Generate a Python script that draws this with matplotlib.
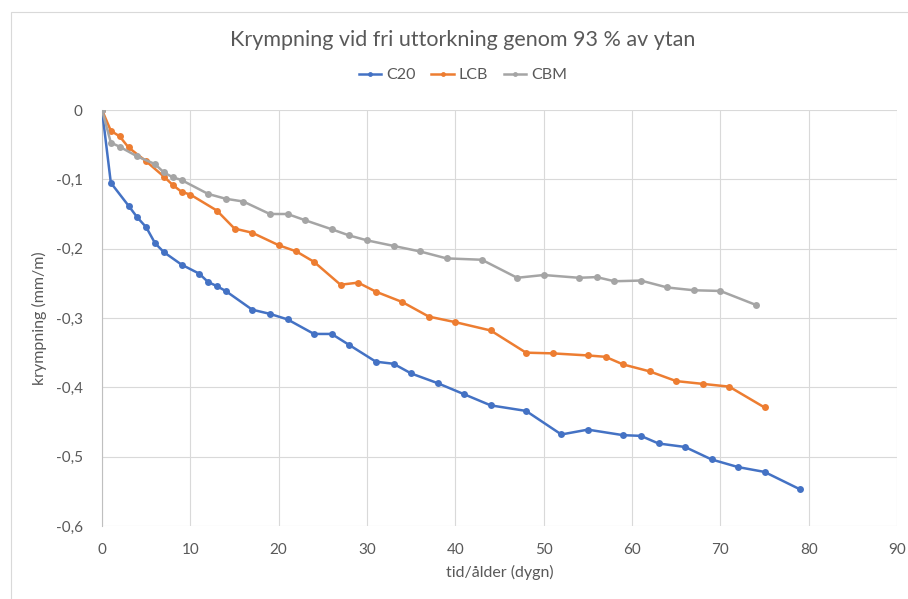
import matplotlib
matplotlib.use("Agg")
import matplotlib.pyplot as plt
from matplotlib.patches import Rectangle
from matplotlib.ticker import FuncFormatter

plt.rcParams['font.family'] = ['Lato', 'DejaVu Sans']

# C20
c20_x = [0, 1, 3, 4, 5, 6, 7, 9, 11, 12, 13, 14, 17, 19, 21, 24, 26, 28, 31, 33, 35,
         38, 41, 44, 48, 52, 55, 59, 61, 63, 66, 69, 72, 75, 79]
c20_y = [0, -0.105, -0.138, -0.155, -0.169, -0.192, -0.205, -0.223, -0.236, -0.248,
         -0.254, -0.261, -0.288, -0.294, -0.302, -0.323, -0.323, -0.339, -0.363, -0.366,
         -0.380, -0.394, -0.410, -0.426, -0.434, -0.468, -0.461, -0.469, -0.470, -0.481,
         -0.486, -0.504, -0.515, -0.522, -0.547]

# LCB
lcb_x = [0, 1, 2, 3, 5, 7, 8, 9, 10, 13, 15, 17, 20, 22, 24, 27, 29, 31, 34, 37, 40,
         44, 48, 51, 55, 57, 59, 62, 65, 68, 71, 75]
lcb_y = [0, -0.030, -0.038, -0.054, -0.074, -0.096, -0.108, -0.118, -0.122, -0.145,
         -0.171, -0.177, -0.195, -0.204, -0.219, -0.252, -0.249, -0.262, -0.277, -0.298,
         -0.306, -0.318, -0.350, -0.351, -0.354, -0.356, -0.367, -0.377, -0.391, -0.395,
         -0.399, -0.429]

# CBM
cbm_x = [0, 1, 2, 4, 6, 7, 8, 9, 12, 14, 16, 19, 21, 23, 26, 28, 30, 33, 36, 39, 43,
         47, 50, 54, 56, 58, 61, 64, 67, 70, 74]
cbm_y = [0, -0.047, -0.053, -0.067, -0.078, -0.090, -0.097, -0.101, -0.121, -0.128,
         -0.132, -0.150, -0.150, -0.159, -0.172, -0.181, -0.188, -0.196, -0.204, -0.214,
         -0.216, -0.242, -0.238, -0.242, -0.241, -0.247, -0.246, -0.256, -0.260, -0.261,
         -0.281]

x_ticks = [0, 10, 20, 30, 40, 50, 60, 70, 80, 90]
y_ticks = [0, -0.1, -0.2, -0.3, -0.4, -0.5, -0.6]

txt = '#595959'
grid = '#D9D9D9'

fig = plt.figure(figsize=(9.08, 5.99), dpi=100)
fig.patches.append(Rectangle((11 / 908, -0.1), 1.0, 1 - 12 / 599 + 0.1,
                             transform=fig.transFigure, fill=False,
                             edgecolor=grid, lw=0.8))
ax = fig.add_axes([102 / 908, 1 - 526 / 599, 795 / 908, 416 / 599])

series = [(c20_x, c20_y, 'C20', '#4472C4'),
          (lcb_x, lcb_y, 'LCB', '#ED7D31'),
          (cbm_x, cbm_y, 'CBM', '#A5A5A5')]
for xs, ys, name, col in series:
    ax.plot(xs, ys, color=col, lw=1.8, marker='o', markersize=5,
            markeredgewidth=0, label=name, zorder=3)

ax.set_xlim(0, 90)
ax.set_ylim(-0.6, 0)
ax.set_xticks(x_ticks)
ax.set_yticks(y_ticks)
ax.yaxis.set_major_formatter(FuncFormatter(
    lambda v, p: '0' if abs(v) < 1e-9 else ('%.1f' % v).replace('.', ',')))
ax.grid(True, color=grid, lw=0.8, zorder=0)
for s in ['top', 'right', 'bottom']:
    ax.spines[s].set_visible(False)
ax.spines['left'].set_color('#BFBFBF')
ax.spines['left'].set_linewidth(0.8)
ax.tick_params(length=0, colors=txt, labelsize=11)
ax.tick_params(axis='x', pad=12)
ax.tick_params(axis='y', pad=14)

ax.set_xlabel('tid/ålder (dygn)', color=txt, fontsize=11.5, labelpad=6)
ax.set_ylabel('krympning (mm/m)', color=txt, fontsize=11.5, labelpad=6)

fig.text(463 / 908, 1 - 40 / 599, 'Krympning vid fri uttorkning genom 93 % av ytan',
         ha='center', va='center', fontsize=15.5, color=txt)

fig.legend(loc='center', bbox_to_anchor=(463 / 908, 1 - 75 / 599), ncol=3,
           frameon=False, fontsize=11.5, labelcolor=txt, handlelength=1.4,
           handletextpad=0.3, columnspacing=1.0, markerscale=0.7)

fig.savefig('out.png', dpi=100)
